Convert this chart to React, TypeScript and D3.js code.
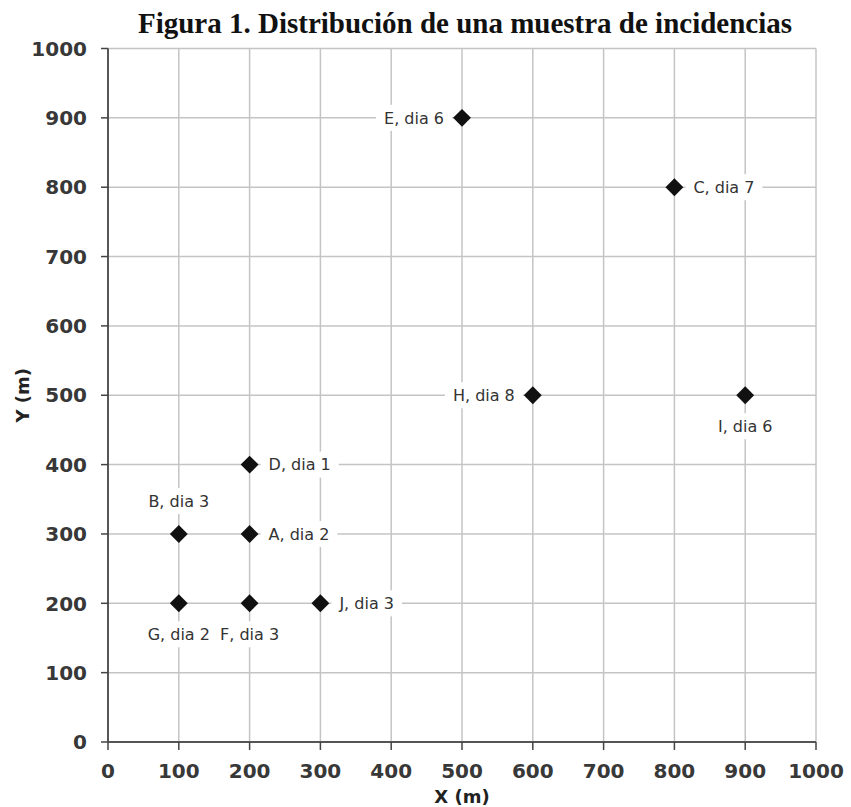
import React, { useEffect, useRef } from "react";
import * as d3 from "d3";

const W = 851;
const H = 807;

const titleText = "Figura 1. Distribución de una muestra de incidencias";
const xAxisTitle = "X (m)";
const yAxisTitle = "Y (m)";

const xTicks = [0, 100, 200, 300, 400, 500, 600, 700, 800, 900, 1000];
const yTicks = [0, 100, 200, 300, 400, 500, 600, 700, 800, 900, 1000];

const names = ["A", "B", "C", "D", "E", "F", "G", "H", "I", "J"];
const xValues = [200, 100, 800, 200, 500, 200, 100, 600, 900, 300];
const yValues = [300, 300, 800, 400, 900, 200, 200, 500, 500, 200];
const days = [2, 3, 7, 1, 6, 3, 2, 8, 6, 3];
const placements = ["right", "above", "right", "right", "left", "below", "below", "left", "below", "right"];

export default function App() {
  const ref = useRef<SVGSVGElement | null>(null);

  useEffect(() => {
    const svg = d3.select(ref.current);
    svg.selectAll("*").remove();

    const x = d3.scaleLinear().domain([0, 1000]).range([108, 816]);
    const y = d3.scaleLinear().domain([0, 1000]).range([742, 48.5]);

    const sans = "'DejaVu Sans', sans-serif";

    svg.append("rect").attr("width", W).attr("height", H).attr("fill", "#fff");

    // title
    svg
      .append("text")
      .attr("x", 465)
      .attr("y", 33)
      .attr("text-anchor", "middle")
      .attr("font-family", "'Liberation Serif', 'Times New Roman', serif")
      .attr("font-weight", "bold")
      .attr("font-size", 29)
      .attr("fill", "#111")
      .text(titleText);

    const grid = svg.append("g");
    grid
      .selectAll("line.v")
      .data(xTicks.filter((t) => t > 0))
      .join("line")
      .attr("x1", (d) => x(d))
      .attr("x2", (d) => x(d))
      .attr("y1", y(1000))
      .attr("y2", y(0))
      .attr("stroke", "#c4c4c4")
      .attr("stroke-width", 1.5);
    grid
      .selectAll("line.h")
      .data(yTicks.filter((t) => t > 0))
      .join("line")
      .attr("x1", x(0))
      .attr("x2", x(1000))
      .attr("y1", (d) => y(d))
      .attr("y2", (d) => y(d))
      .attr("stroke", "#c4c4c4")
      .attr("stroke-width", 1.5);

    // axes
    svg
      .append("line")
      .attr("x1", x(0))
      .attr("x2", x(0))
      .attr("y1", y(1000))
      .attr("y2", y(0))
      .attr("stroke", "#444")
      .attr("stroke-width", 1.8);
    svg
      .append("line")
      .attr("x1", x(0))
      .attr("x2", x(1000))
      .attr("y1", y(0))
      .attr("y2", y(0))
      .attr("stroke", "#555")
      .attr("stroke-width", 2.2);

    // ticks
    svg
      .append("g")
      .selectAll("line")
      .data(yTicks)
      .join("line")
      .attr("x1", x(0) - 7)
      .attr("x2", x(0))
      .attr("y1", (d) => y(d))
      .attr("y2", (d) => y(d))
      .attr("stroke", "#444")
      .attr("stroke-width", 1.5);
    svg
      .append("g")
      .selectAll("line")
      .data(xTicks)
      .join("line")
      .attr("x1", (d) => x(d))
      .attr("x2", (d) => x(d))
      .attr("y1", y(0))
      .attr("y2", y(0) + 8)
      .attr("stroke", "#444")
      .attr("stroke-width", 1.5);

    // tick labels
    svg
      .append("g")
      .selectAll("text")
      .data(yTicks)
      .join("text")
      .attr("x", x(0) - 21)
      .attr("y", (d) => y(d))
      .attr("dy", "0.36em")
      .attr("text-anchor", "end")
      .attr("font-family", sans)
      .attr("font-weight", "bold")
      .attr("font-size", 20)
      .attr("fill", "#383838")
      .text((d) => String(d));
    svg
      .append("g")
      .selectAll("text")
      .data(xTicks)
      .join("text")
      .attr("x", (d) => x(d))
      .attr("y", 778)
      .attr("text-anchor", "middle")
      .attr("font-family", sans)
      .attr("font-weight", "bold")
      .attr("font-size", 20)
      .attr("fill", "#383838")
      .text((d) => String(d));

    // axis titles
    svg
      .append("text")
      .attr("x", 462)
      .attr("y", 803)
      .attr("text-anchor", "middle")
      .attr("font-family", sans)
      .attr("font-weight", "bold")
      .attr("font-size", 18)
      .attr("fill", "#222")
      .text(xAxisTitle);
    svg
      .append("text")
      .attr("transform", `translate(29, ${y(500)}) rotate(-90)`)
      .attr("text-anchor", "middle")
      .attr("font-family", sans)
      .attr("font-weight", "bold")
      .attr("font-size", 18)
      .attr("fill", "#222")
      .text(yAxisTitle);

    // point labels
    const idx = d3.range(names.length);
    const labelG = svg.append("g");
    idx.forEach((i) => {
      const px = x(xValues[i]);
      const py = y(yValues[i]);
      const p = placements[i];
      let tx = px;
      let ty = py;
      let anchor = "middle";
      if (p === "right") {
        tx = px + 19;
        anchor = "start";
      } else if (p === "left") {
        tx = px - 18;
        anchor = "end";
      } else if (p === "above") {
        ty = py - 33;
      } else {
        ty = py + 31;
      }
      const g = labelG.append("g");
      const rect = g.append("rect").attr("fill", "#fff");
      const t = g
        .append("text")
        .attr("x", tx)
        .attr("y", ty)
        .attr("dy", "0.36em")
        .attr("text-anchor", anchor)
        .attr("font-family", sans)
        .attr("font-size", 16)
        .attr("fill", "#333")
        .text(`${names[i]}, dia ${days[i]}`);
      const len = (t.node() as SVGTextElement).getComputedTextLength();
      const left = anchor === "start" ? tx : anchor === "end" ? tx - len : tx - len / 2;
      rect
        .attr("x", left - 8)
        .attr("y", ty - 13)
        .attr("width", len + 16)
        .attr("height", 26);
    });

    // markers
    svg
      .append("g")
      .selectAll("path")
      .data(idx)
      .join("path")
      .attr("d", d3.symbol(d3.symbolSquare, 160)() as string)
      .attr("transform", (i) => `translate(${x(xValues[i])}, ${y(yValues[i])}) rotate(45)`)
      .attr("fill", "#111");
  }, []);

  return (
    <svg
      ref={ref}
      width={W}
      height={H}
      style={{ position: "absolute", left: 0, top: 0, display: "block" }}
    />
  );
}
